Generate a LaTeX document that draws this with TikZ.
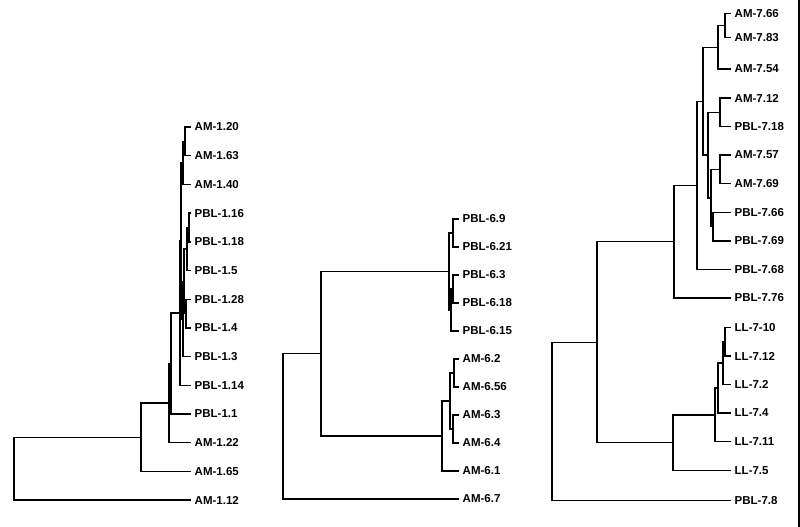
\documentclass[tikz,border=0pt]{standalone}
\usepackage{fontspec}
\setmainfont{Liberation Sans}
\begin{document}
\begin{tikzpicture}[x=1pt,y=-1pt,
  lab/.style={anchor=west, inner xsep=4.5pt, inner ysep=0pt, font=\bfseries\fontsize{11.5}{13}\selectfont},
  br/.style={line width=1.4pt, line cap=rect}]
\useasboundingbox (0,0) rectangle (800,527);
% ---------- left tree ----------
\node[lab] (l0) at (190,127) {AM-1.20};
\node[lab] (l1) at (190,155.7) {AM-1.63};
\node[lab] (l2) at (190,184.4) {AM-1.40};
\node[lab] (l3) at (190,213.1) {PBL-1.16};
\node[lab] (l4) at (190,241.8) {PBL-1.18};
\node[lab] (l5) at (190,270.5) {PBL-1.5};
\node[lab] (l6) at (190,299.2) {PBL-1.28};
\node[lab] (l7) at (190,327.9) {PBL-1.4};
\node[lab] (l8) at (190,356.6) {PBL-1.3};
\node[lab] (l9) at (190,385.3) {PBL-1.14};
\node[lab] (l10) at (190,414) {PBL-1.1};
\node[lab] (l11) at (190,442.7) {AM-1.22};
\node[lab] (l12) at (190,471.4) {AM-1.65};
\node[lab] (l13) at (190,500.1) {AM-1.12};
\coordinate (La) at (185,141.35);
\coordinate (Lb) at (183,162.9);
\coordinate (Lc) at (189,227.45);
\coordinate (Ld) at (187,249);
\coordinate (Le) at (186,313.55);
\coordinate (Lf) at (184,281.3);
\coordinate (Lg) at (183,318.95);
\coordinate (Li) at (181,240.9);
\coordinate (Lj) at (180,313.1);
\coordinate (Lk) at (171,363.55);
\coordinate (Ll) at (169,403.1);
\coordinate (Lm) at (141,437.25);
\coordinate (Lr) at (14,468.7);
\draw[br] (La) |- (l0); \draw[br] (La) |- (l1);
\draw[br] (Lb) |- (La); \draw[br] (Lb) |- (l2);
\draw[br] (Lc) |- (l3); \draw[br] (Lc) |- (l4);
\draw[br] (Ld) |- (Lc); \draw[br] (Ld) |- (l5);
\draw[br] (Le) |- (l6); \draw[br] (Le) |- (l7);
\draw[br] (Lf) |- (Ld); \draw[br] (Lf) |- (Le);
\draw[br] (Lg) |- (Lf); \draw[br] (Lg) |- (l8);
\draw[br] (Li) |- (Lb); \draw[br] (Li) |- (Lg);
\draw[br] (Lj) |- (Li); \draw[br] (Lj) |- (l9);
\draw[br] (Lk) |- (Lj); \draw[br] (Lk) |- (l10);
\draw[br] (Ll) |- (Lk); \draw[br] (Ll) |- (l11);
\draw[br] (Lm) |- (Ll); \draw[br] (Lm) |- (l12);
\draw[br] (Lr) |- (Lm); \draw[br] (Lr) |- (l13);
% ---------- middle tree ----------
\node[lab] (m0) at (458,219) {PBL-6.9};
\node[lab] (m1) at (458,247) {PBL-6.21};
\node[lab] (m2) at (458,275) {PBL-6.3};
\node[lab] (m3) at (458,303) {PBL-6.18};
\node[lab] (m4) at (458,331) {PBL-6.15};
\node[lab] (m5) at (458,359) {AM-6.2};
\node[lab] (m6) at (458,387) {AM-6.56};
\node[lab] (m7) at (458,415) {AM-6.3};
\node[lab] (m8) at (458,443) {AM-6.4};
\node[lab] (m9) at (458,471) {AM-6.1};
\node[lab] (m10) at (458,499) {AM-6.7};
\coordinate (Pa) at (453,233);
\coordinate (Pb) at (453,289);
\coordinate (Pc) at (451,310);
\coordinate (Pd) at (449,271.5);
\coordinate (Qa) at (454,373);
\coordinate (Qb) at (453,429);
\coordinate (Qc) at (450,401);
\coordinate (Qd) at (442,436);
\coordinate (Mr1) at (321,353.75);
\coordinate (Mr) at (283,426.4);
\draw[br] (Pa) |- (m0); \draw[br] (Pa) |- (m1);
\draw[br] (Pb) |- (m2); \draw[br] (Pb) |- (m3);
\draw[br] (Pc) |- (Pb); \draw[br] (Pc) |- (m4);
\draw[br] (Pd) |- (Pa); \draw[br] (Pd) |- (Pc);
\draw[br] (Qa) |- (m5); \draw[br] (Qa) |- (m6);
\draw[br] (Qb) |- (m7); \draw[br] (Qb) |- (m8);
\draw[br] (Qc) |- (Qa); \draw[br] (Qc) |- (Qb);
\draw[br] (Qd) |- (Qc); \draw[br] (Qd) |- (m9);
\draw[br] (Mr1) |- (Pd); \draw[br] (Mr1) |- (Qd);
\draw[br] (Mr) |- (Mr1); \draw[br] (Mr) |- (m10);
% ---------- right tree ----------
\node[lab] (r0) at (730,13.5) {AM-7.66};
\node[lab] (r1) at (730,37.5) {AM-7.83};
\node[lab] (r2) at (730,69) {AM-7.54};
\node[lab] (r3) at (730,98) {AM-7.12};
\node[lab] (r4) at (730,126.5) {PBL-7.18};
\node[lab] (r5) at (730,155) {AM-7.57};
\node[lab] (r6) at (730,183.5) {AM-7.69};
\node[lab] (r7) at (730,212.5) {PBL-7.66};
\node[lab] (r8) at (730,241) {PBL-7.69};
\node[lab] (r9) at (730,269.5) {PBL-7.68};
\node[lab] (r10) at (730,298) {PBL-7.76};
\node[lab] (r11) at (730,327.5) {LL-7-10};
\node[lab] (r12) at (730,356) {LL-7.12};
\node[lab] (r13) at (730,384.5) {LL-7.2};
\node[lab] (r14) at (730,413) {LL-7.4};
\node[lab] (r15) at (730,441.5) {LL-7.11};
\node[lab] (r16) at (730,470.5) {LL-7.5};
\node[lab] (r17) at (730,500.5) {PBL-7.8};
\coordinate (S1) at (725,25.5);
\coordinate (S2) at (718,47.25);
\coordinate (S3) at (720,112.25);
\coordinate (S4) at (720,169.25);
\coordinate (S5) at (713,226.75);
\coordinate (S6) at (711,198);
\coordinate (S7) at (708,155.1);
\coordinate (S8) at (703,101.2);
\coordinate (S9) at (697,185.35);
\coordinate (S10) at (674,241.7);
\coordinate (Ta) at (725,341.75);
\coordinate (Tb) at (723,363.1);
\coordinate (Tc) at (718,388.05);
\coordinate (Td) at (715,414.8);
\coordinate (Te) at (673,442.65);
\coordinate (S11) at (597,342.2);
\coordinate (Sr) at (552,421.35);
\draw[br] (S1) |- (r0); \draw[br] (S1) |- (r1);
\draw[br] (S2) |- (S1); \draw[br] (S2) |- (r2);
\draw[br] (S3) |- (r3); \draw[br] (S3) |- (r4);
\draw[br] (S4) |- (r5); \draw[br] (S4) |- (r6);
\draw[br] (S5) |- (r7); \draw[br] (S5) |- (r8);
\draw[br] (S6) |- (S4); \draw[br] (S6) |- (S5);
\draw[br] (S7) |- (S3); \draw[br] (S7) |- (S6);
\draw[br] (S8) |- (S2); \draw[br] (S8) |- (S7);
\draw[br] (S9) |- (S8); \draw[br] (S9) |- (r9);
\draw[br] (S10) |- (S9); \draw[br] (S10) |- (r10);
\draw[br] (Ta) |- (r11); \draw[br] (Ta) |- (r12);
\draw[br] (Tb) |- (Ta); \draw[br] (Tb) |- (r13);
\draw[br] (Tc) |- (Tb); \draw[br] (Tc) |- (r14);
\draw[br] (Td) |- (Tc); \draw[br] (Td) |- (r15);
\draw[br] (Te) |- (Td); \draw[br] (Te) |- (r16);
\draw[br] (S11) |- (S10); \draw[br] (S11) |- (Te);
\draw[br] (Sr) |- (S11); \draw[br] (Sr) |- (r17);
% right edge rule
\coordinate (E0) at (799,0);
\coordinate (E1) at (799,527);
\draw[line width=1.4pt] (E0) -- (E1);
\end{tikzpicture}
\end{document}
